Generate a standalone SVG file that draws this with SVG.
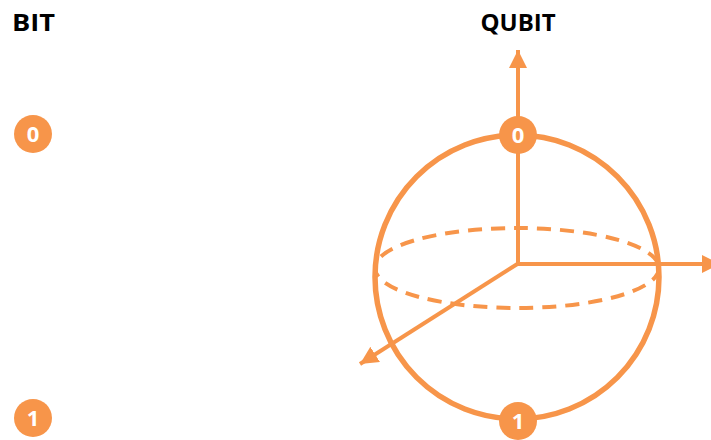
<svg xmlns="http://www.w3.org/2000/svg" width="711" height="440" viewBox="0 0 711 440">
<style>
.title{font-family:"Open Sans","Liberation Sans",sans-serif;font-weight:bold;font-size:24px;fill:#000}
.num{font-family:"Open Sans","Liberation Sans",sans-serif;font-weight:bold;font-size:22px;fill:#fff;text-anchor:middle}
.ln{stroke:#F7954A;fill:none}
.dot{fill:#F7954A}
</style>
<defs>
<marker id="ah" viewBox="0 0 10 10" refX="10" refY="5" markerWidth="4.5" markerHeight="4.5" markerUnits="strokeWidth" orient="auto">
<path d="M0,0 L10,5 L0,10 Z" fill="#F7954A"/>
</marker>
</defs>
<rect width="711" height="440" fill="#fff"/>
<text class="title" x="12" y="31" textLength="43" lengthAdjust="spacingAndGlyphs">BIT</text>
<text class="title" x="518" y="31" text-anchor="middle">QUBIT</text>
<g id="sphere">
<circle class="ln" cx="517" cy="277" r="142" stroke-width="5.5"/>
<ellipse class="ln" cx="517" cy="268" rx="142" ry="40" stroke-width="4" stroke-dasharray="14 9"/>
</g>
<g id="connectors">
<line class="ln" x1="518" y1="264" x2="518" y2="50" stroke-width="4" marker-end="url(#ah)"/>
<line class="ln" x1="516" y1="264" x2="720" y2="264" stroke-width="4" marker-end="url(#ah)"/>
<line class="ln" x1="519" y1="263" x2="360" y2="364" stroke-width="4" marker-end="url(#ah)"/>
</g>
<g id="bit0"><circle class="dot" cx="33" cy="134" r="19"/><text class="num" x="33" y="142">0</text></g>
<g id="bit1"><circle class="dot" cx="33" cy="418" r="19"/><text class="num" x="33" y="426">1</text></g>
<g id="qubit0"><circle class="dot" cx="518" cy="135" r="19"/><text class="num" x="518" y="143">0</text></g>
<g id="qubit1"><circle class="dot" cx="518" cy="421" r="19"/><text class="num" x="518" y="429">1</text></g>
</svg>
